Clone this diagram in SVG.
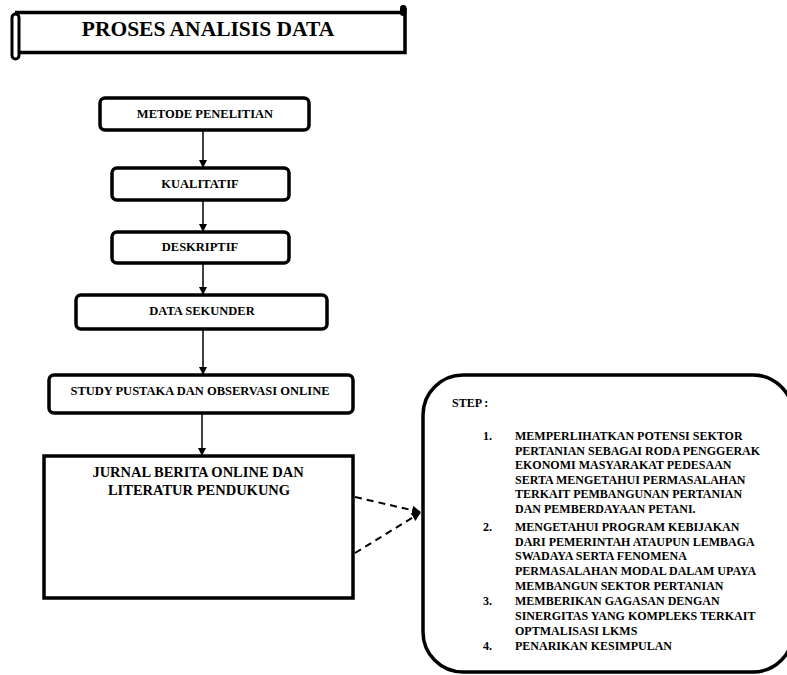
<svg xmlns="http://www.w3.org/2000/svg" width="787" height="675" viewBox="0 0 787 675">
<defs>
<style>
.box{fill:#fff;stroke:#000;stroke-width:3.5}
.t{font-family:"Liberation Serif","Times New Roman",serif;font-weight:bold;fill:#000}
.c{text-anchor:middle}
.f12{font-size:12.5px}
.f14{font-size:14.5px}
.s{font-size:12px}
.ln{stroke:#000;stroke-width:1.5;fill:none}
.dash{stroke:#000;stroke-width:2;fill:none;stroke-dasharray:7 5}
</style>
<marker id="ah" viewBox="0 0 10 10" refX="10" refY="5" markerWidth="8" markerHeight="8" markerUnits="userSpaceOnUse" orient="auto">
<path d="M0,0 L10,5 L0,10 Z" fill="#000"/>
</marker>
<marker id="ah2" viewBox="0 0 10 10" refX="9" refY="5" markerWidth="9" markerHeight="11" markerUnits="userSpaceOnUse" orient="auto">
<path d="M0,0 L10,5 L0,10 Z" fill="#000"/>
</marker>
</defs>
<rect width="787" height="675" fill="#fff"/>

<g id="title">
<path d="M15,12.5 L402,12.5 M405,8 L405,52.5 L18,52.5" fill="none" stroke="#000" stroke-width="3.5"/>
<rect x="12" y="14" width="7" height="45" rx="3.5" fill="#fff" stroke="#000" stroke-width="3"/>
<rect x="400" y="5" width="6.5" height="11" rx="3.2" fill="#000"/>
<text class="t c" x="208" y="36" font-size="21.5">PROSES ANALISIS DATA</text>
</g>

<g id="connectors">
<line class="ln" x1="203" y1="130" x2="203" y2="168" marker-end="url(#ah)"/>
<line class="ln" x1="203" y1="200" x2="203" y2="232" marker-end="url(#ah)"/>
<line class="ln" x1="203" y1="263" x2="203" y2="295" marker-end="url(#ah)"/>
<line class="ln" x1="203" y1="329" x2="203" y2="375" marker-end="url(#ah)"/>
<line class="ln" x1="202" y1="413" x2="202" y2="456" marker-end="url(#ah)"/>
<line class="dash" x1="355" y1="497" x2="420" y2="512" marker-end="url(#ah2)"/>
<line class="dash" x1="355" y1="553" x2="420" y2="513" marker-end="url(#ah2)"/>
</g>

<g id="metode">
<rect class="box" x="100" y="98" width="209" height="32" rx="5"/>
<text class="t c f12" x="205" y="118">METODE PENELITIAN</text>
</g>
<g id="kualitatif">
<rect class="box" x="112" y="168" width="177" height="32" rx="5"/>
<text class="t c f12" x="200" y="188">KUALITATIF</text>
</g>
<g id="deskriptif">
<rect class="box" x="112" y="232" width="177" height="31" rx="5"/>
<text class="t c f12" x="200" y="251">DESKRIPTIF</text>
</g>
<g id="data-sekunder">
<rect class="box" x="76" y="295" width="251" height="34" rx="5"/>
<text class="t c f12" x="202" y="315">DATA SEKUNDER</text>
</g>
<g id="study">
<rect class="box" x="49" y="375" width="304" height="38" rx="5"/>
<text class="t c f12" x="200" y="395">STUDY PUSTAKA DAN OBSERVASI ONLINE</text>
</g>
<g id="jurnal">
<rect class="box" x="44" y="456" width="309" height="142"/>
<text class="t c f14" x="198" y="477">JURNAL BERITA ONLINE DAN</text>
<text class="t c f14" x="199" y="495">LITERATUR PENDUKUNG</text>
</g>

<g id="step">
<rect class="box" x="423" y="375" width="370" height="297" rx="40"/>
<text class="t s" x="452" y="407">STEP :</text>
<text class="t s" x="483" y="440">1.</text>
<text class="t s" x="515" y="440">MEMPERLIHATKAN POTENSI  SEKTOR</text>
<text class="t s" x="515" y="454.5">PERTANIAN SEBAGAI RODA PENGGERAK</text>
<text class="t s" x="515" y="469">EKONOMI MASYARAKAT PEDESAAN</text>
<text class="t s" x="515" y="483.5">SERTA MENGETAHUI PERMASALAHAN</text>
<text class="t s" x="515" y="498">TERKAIT PEMBANGUNAN PERTANIAN</text>
<text class="t s" x="515" y="513">DAN PEMBERDAYAAN PETANI.</text>
<text class="t s" x="483" y="531">2.</text>
<text class="t s" x="515" y="531">MENGETAHUI PROGRAM KEBIJAKAN</text>
<text class="t s" x="515" y="545.5">DARI PEMERINTAH ATAUPUN LEMBAGA</text>
<text class="t s" x="515" y="560">SWADAYA SERTA FENOMENA</text>
<text class="t s" x="515" y="575">PERMASALAHAN MODAL DALAM UPAYA</text>
<text class="t s" x="515" y="590">MEMBANGUN SEKTOR PERTANIAN</text>
<text class="t s" x="483" y="605">3.</text>
<text class="t s" x="515" y="605">MEMBERIKAN GAGASAN DENGAN</text>
<text class="t s" x="515" y="620">SINERGITAS YANG KOMPLEKS TERKAIT</text>
<text class="t s" x="515" y="635">OPTMALISASI LKMS</text>
<text class="t s" x="483" y="650">4.</text>
<text class="t s" x="515" y="650">PENARIKAN KESIMPULAN</text>
</g>
</svg>
